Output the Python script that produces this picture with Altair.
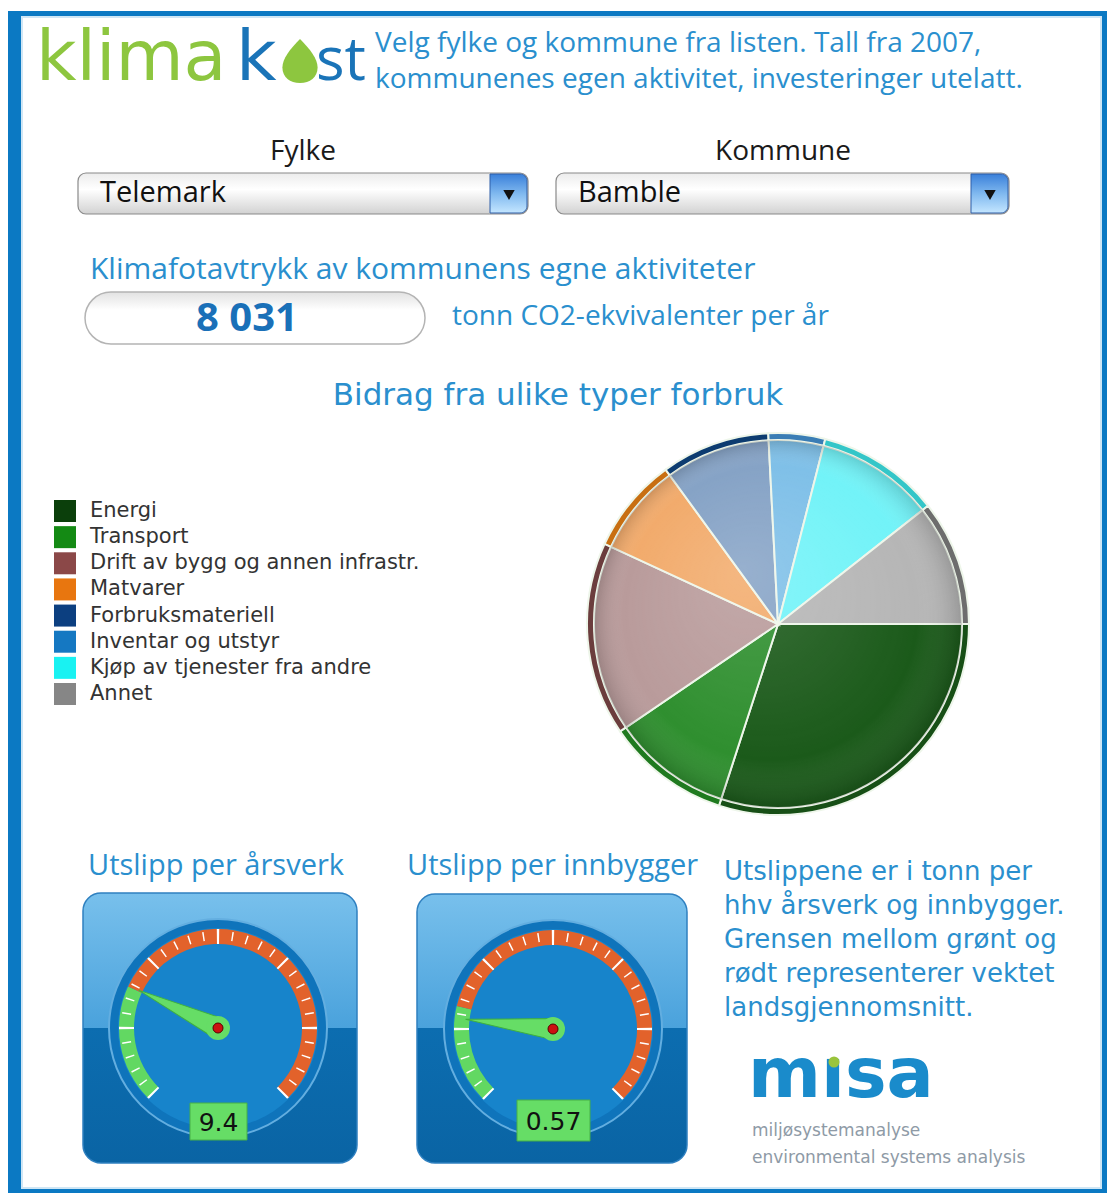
import math
import pandas as pd
import altair as alt

# ------------------------------------------------------------------ data
CATEGORIES = ["Energi", "Transport", "Drift av bygg og annen infrastr.", "Matvarer",
              "Forbruksmateriell", "Inventar og utstyr", "Kjøp av tjenester fra andre", "Annet"]
EMISSIONS = [2409, 843, 1317, 650, 739, 385, 835, 853]          # tonn CO2-ekv.
LEGEND_COLORS = ["#0b3f0b", "#148a14", "#8b4848", "#e8760f", "#0c3f80", "#1578c2", "#19f2f2", "#868686"]
PIE_COLORS = ["#1b5a1a", "#2f8f2f", "#b99b9b", "#f2ab6c", "#86a3c6", "#7fc0e8", "#72f3f8", "#b6b6b6"]
RIM_COLORS = ["#174f16", "#1f7a1f", "#6b3d3d", "#c86f12", "#0d3c70", "#3a7db5", "#34c6c8", "#6d6d6d"]
TOTAL_LABEL = "8 031"
FYLKE = "Telemark"
KOMMUNE = "Bamble"
GAUGE_TITLES = ["Utslipp per årsverk", "Utslipp per innbygger"]
GAUGE_VALUES = [9.4, 0.57]
GAUGE_LABELS = ["9.4", "0.57"]
GAUGE_AVERAGES = [9.3, 0.65]
GAUGE_MAX = [36.0, 3.0]
HEADER = ["Velg fylke og kommune fra listen. Tall fra 2007,",
          "kommunenes egen aktivitet, investeringer utelatt."]
NOTE = ["Utslippene er i tonn per", "hhv årsverk og innbygger.", "Grensen mellom grønt og",
        "rødt representerer vektet", "landsgjennomsnitt."]

# ------------------------------------------------------------------ canvas
W, H = 1099, 1185
OX, OY = 8, 8
XS = alt.Scale(domain=[OX, OX + W], range=[0, W], nice=False, zero=False)
YS = alt.Scale(domain=[OY, OY + H], range=[0, H], nice=False, zero=False)
BLUE_TXT = "#2a8fce"
TREB = "Open Sans"
VERD = "DejaVu Sans"


def X(f="x"):
    return alt.X(f + ":Q", scale=XS, axis=None)


def Y(f="y"):
    return alt.Y(f + ":Q", scale=YS, axis=None)


layers = []


def text(x, y, s, size, color, align="left", weight="normal", font=TREB, baseline="middle"):
    df = pd.DataFrame({"x": [x], "y": [y], "t": [s]})
    layers.append(alt.Chart(df).mark_text(align=align, baseline=baseline, fontSize=size,
                                          fontWeight=weight, font=font, color=color)
                  .encode(x=X(), y=Y(), text="t:N"))


def rect(x0, y0, x1, y1, **mk):
    df = pd.DataFrame({"x": [x0], "x2": [x1], "y": [y0], "y2": [y1]})
    layers.append(alt.Chart(df).mark_rect(**mk)
                  .encode(x=X(), x2=alt.X2("x2:Q"), y=Y(), y2=alt.Y2("y2:Q")))


def dot(x, y, r, fill, stroke="transparent", sw=0, shape="circle", size=None):
    df = pd.DataFrame({"x": [x], "y": [y]})
    mk = dict(shape=shape, filled=True, size=size if size else (2 * r) ** 2, fill=fill,
              stroke=stroke, strokeWidth=sw, opacity=1)
    layers.append(alt.Chart(df).mark_point(**mk).encode(x=X(), y=Y()))


def vgrad(stops):
    return alt.Gradient(gradient="linear", x1=0, y1=0, x2=0, y2=1,
                        stops=[alt.GradientStop(offset=o, color=c) for o, c in stops])


# ------------------------------------------------------------------ frame
rect(8, 11, 1107, 1193, fill="#0b79c3")
rect(22, 17, 1101, 1188, fill="#ffffff", stroke="#cfe6f5", strokeWidth=2)

# ------------------------------------------------------------------ logo klimakost
text(36, 80, "klima", 70, "#8dc63f", font=VERD, baseline="alphabetic")
text(236, 80, "k", 70, "#1a74b8", font=VERD, baseline="alphabetic")
leaf = "M 0 -1 C 0.45 -0.55 0.8 -0.1 0.8 0.3 C 0.8 0.75 0.45 1 0 1 C -0.45 1 -0.8 0.75 -0.8 0.3 C -0.8 -0.1 -0.45 -0.55 0 -1 Z"
dot(300, 61, 0, "#8dc63f", shape=leaf, size=44 ** 2)
text(316, 80, "st", 60, "#1a74b8", baseline="alphabetic")
text(375, 44, HEADER[0], 28, BLUE_TXT)
text(375, 80, HEADER[1], 28, BLUE_TXT)

# ------------------------------------------------------------------ selectors
text(303, 152, "Fylke", 28, "#1a1a1a", align="center")
text(783, 152, "Kommune", 28, "#1a1a1a", align="center")
for (x0, x1, label) in [(78, 528, FYLKE), (556, 1009, KOMMUNE)]:
    rect(x0, 173, x1, 214, cornerRadius=8, fill=vgrad([(0, "#ececec"), (0.4, "#ffffff"), (1, "#d2d2d2")]),
         stroke="#8a8a8a", strokeWidth=1.2)
    rect(x1 - 38, 174, x1 - 1, 213, cornerRadiusTopRight=7, cornerRadiusBottomRight=7,
         fill=vgrad([(0, "#3a80da"), (0.5, "#7fb8ef"), (1, "#c4e6ff")]),
         stroke="#2f5fa8", strokeWidth=1)
    dot(x1 - 19, 195, 0, "#111111", shape="triangle-down", size=130)
    text(x0 + 22, 193, label, 29, "#111111")

# ------------------------------------------------------------------ total
text(90, 270, "Klimafotavtrykk av kommunens egne aktiviteter", 30, BLUE_TXT)
rect(85, 292, 425, 344, cornerRadius=26, fill=vgrad([(0, "#e2e2e2"), (0.35, "#ffffff"), (1, "#ffffff")]),
     stroke="#b4b4b4", strokeWidth=1.5)
text(247, 319, TOTAL_LABEL, 40, "#1a70b8", align="center", weight="bold")
text(452, 317, "tonn CO2-ekvivalenter per år", 28, BLUE_TXT)

# ------------------------------------------------------------------ pie
text(558, 396, "Bidrag fra ulike typer forbruk", 31, BLUE_TXT, align="center", font=VERD)
pie_df = pd.DataFrame({"cat": CATEGORIES, "value": EMISSIONS, "idx": list(range(len(CATEGORIES)))})
pie_df["x"] = 778
pie_df["y"] = 624
theta_pie = alt.Theta("value:Q", stack=True,
                      scale=alt.Scale(range=[math.pi / 2, math.pi / 2 + 2 * math.pi]))
for rad, cols in [(191, RIM_COLORS), (184, PIE_COLORS)]:
    layers.append(alt.Chart(pie_df).mark_arc(outerRadius=rad, stroke="#eef6ea", strokeWidth=2)
                  .encode(x=X(), y=Y(), theta=theta_pie, order=alt.Order("idx:Q"),
                          color=alt.Color("cat:N", scale=alt.Scale(domain=CATEGORIES, range=cols),
                                          legend=None)))
# soft glassy shading over the pie
gloss = alt.Gradient(gradient="radial", x1=0.4, y1=0.35, r1=0, x2=0.5, y2=0.5, r2=0.5,
                     stops=[alt.GradientStop(offset=0, color="rgba(255,255,255,0.14)"),
                            alt.GradientStop(offset=0.8, color="rgba(255,255,255,0)"),
                            alt.GradientStop(offset=1, color="rgba(0,0,0,0.16)")])
gl_df = pd.DataFrame({"x": [778], "y": [624]})
layers.append(alt.Chart(gl_df).mark_arc(outerRadius=184, fill=gloss)
              .encode(x=X(), y=Y(), theta=alt.value(0), theta2=alt.value(2 * math.pi)))

# legend
leg_df = pd.DataFrame({"cat": CATEGORIES})
leg_df["sx"] = 65
leg_df["tx"] = 90
leg_y = alt.Y("cat:N", scale=alt.Scale(type="point", domain=CATEGORIES, range=[511 - OY, 694 - OY], padding=0),
              axis=None)
layers.append(alt.Chart(leg_df).mark_point(shape="square", filled=True, size=22 * 22, opacity=1)
              .encode(x=X("sx"), y=leg_y,
                      color=alt.Color("cat:N", scale=alt.Scale(domain=CATEGORIES, range=LEGEND_COLORS),
                                      legend=None)))
layers.append(alt.Chart(leg_df).mark_text(align="left", baseline="middle", fontSize=21, font=VERD,
                                          color="#333333")
              .encode(x=X("tx"), y=leg_y, text="cat:N"))

# ------------------------------------------------------------------ gauges
GAUGES = [dict(cx=218, cy=1028, panel=(83, 893, 357, 1163), box=(190, 1103, 247, 1140), tx=88),
          dict(cx=553, cy=1029, panel=(417, 894, 687, 1163), box=(517, 1100, 590, 1141), tx=407)]
needle = "M -0.12 0 L 0 -1 L 0.12 0 Z"
for i, g in enumerate(GAUGES):
    gmax, avg, val = GAUGE_MAX[i], GAUGE_AVERAGES[i], GAUGE_VALUES[i]
    cx, cy = g["cx"], g["cy"]
    text(g["tx"], 866, GAUGE_TITLES[i], 29, BLUE_TXT)
    px0, py0, px1, py1 = g["panel"]
    rect(px0, py0, px1, py1, cornerRadius=18,
         fill=vgrad([(0, "#78c0ec"), (0.499, "#4aa2dc"), (0.5, "#0c6db0"), (1, "#0a64a4")]),
         stroke="#2f80c0", strokeWidth=1.5)
    dot(cx, cy, 109, "#0f74bb", stroke="#63aee0", sw=2)
    dot(cx, cy, 100, "#1784cb")
    ts = alt.Scale(domain=[0, gmax], range=[1.25 * math.pi, 2.75 * math.pi])
    band = pd.DataFrame({"a": [0, avg], "b": [avg, gmax], "c": ["#62d862", "#e2622b"]})
    band["x"] = cx
    band["y"] = cy
    layers.append(alt.Chart(band).mark_arc(innerRadius=84, outerRadius=99)
                  .encode(x=X(), y=Y(), theta=alt.Theta("a:Q", scale=ts, stack=None),
                          theta2=alt.Theta2("b:Q"), color=alt.Color("c:N", scale=None)))
    for major, (r0, r1, hw) in [(False, (88, 97, 0.45)), (True, (84, 99, 0.7))]:
        ks = [k for k in range(31) if (k % 5 == 0) == major]
        tk = pd.DataFrame({"v": [gmax * k / 30 for k in ks]})
        tk["a"] = tk["v"] - hw / 270 * gmax
        tk["b"] = tk["v"] + hw / 270 * gmax
        tk["x"] = cx
        tk["y"] = cy
        layers.append(alt.Chart(tk).mark_arc(innerRadius=r0, outerRadius=r1, fill="#ffffff")
                      .encode(x=X(), y=Y(), theta=alt.Theta("a:Q", scale=ts, stack=None),
                              theta2=alt.Theta2("b:Q")))
    nd = pd.DataFrame({"x": [cx], "y": [cy], "v": [val]})
    layers.append(alt.Chart(nd).mark_point(shape=needle, filled=True, size=(2 * 88) ** 2, fill="#66dd66",
                                           stroke="#3fb03f", strokeWidth=1, opacity=1)
                  .encode(x=X(), y=Y(),
                          angle=alt.Angle("v:Q", scale=alt.Scale(domain=[0, gmax], range=[225, 495]))))
    dot(cx, cy, 12, "#66dd66")
    dot(cx, cy, 5, "#cc1111", stroke="#5a0000", sw=1)
    bx0, by0, bx1, by1 = g["box"]
    rect(bx0, by0, bx1, by1, fill="#66dd66", stroke="#46b046", strokeWidth=1)
    text((bx0 + bx1) / 2, (by0 + by1) / 2 + 1, GAUGE_LABELS[i], 25, "#111111", align="center", font=VERD)

# ------------------------------------------------------------------ note + misa
for j, line in enumerate(NOTE):
    text(724, 872 + j * 34, line, 26, BLUE_TXT, font=VERD)
text(748, 1097, "mısa", 70, "#1a8bcb", weight="bold", font=VERD, baseline="alphabetic")
dot(834, 1062, 5.5, "#9ac43c")
text(752, 1131, "miljøsystemanalyse", 17, "#8e9aa6", font=VERD)
text(752, 1158, "environmental systems analysis", 17, "#8e9aa6", font=VERD)

chart = (alt.layer(*layers)
         .properties(width=W, height=H, padding=0, autosize=alt.AutoSizeParams(type="none"),
                     background="white")
         .resolve_scale(x="independent", y="independent", theta="independent",
                        color="independent", angle="independent")
         .configure_view(strokeWidth=0))

chart.save("out.html", embed_options={"renderer": "svg", "actions": False})
